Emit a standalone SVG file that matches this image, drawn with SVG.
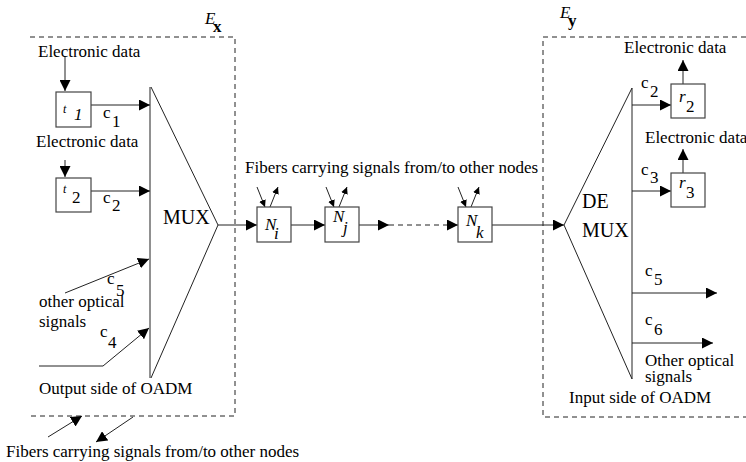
<svg xmlns="http://www.w3.org/2000/svg" width="746" height="462" viewBox="0 0 746 462">
<style>
text{font-family:"Liberation Serif","Times New Roman",serif;fill:#000;font-size:17px}
.it{font-style:italic}
.big{font-size:20px}
.sm{font-size:12px}
.ln{stroke:#222;stroke-width:1;fill:none}
.ar{stroke:#222;stroke-width:1;fill:none;marker-end:url(#ah)}
.ars{stroke:#222;stroke-width:1;fill:none;marker-end:url(#ahs)}
.dash{stroke:#222;stroke-width:1;fill:none;stroke-dasharray:5,4}
.box{fill:#fff;stroke:#444;stroke-width:1.2}
</style>
<defs>
<marker id="ah" viewBox="0 0 10 10" refX="10" refY="5" markerWidth="11" markerHeight="11" markerUnits="userSpaceOnUse" orient="auto"><path d="M0,0 L10,5 L0,10 z" fill="#000"/></marker>
<marker id="ahs" viewBox="0 0 10 10" refX="10" refY="5" markerWidth="7" markerHeight="7" markerUnits="userSpaceOnUse" orient="auto"><path d="M0,0 L10,5 L0,10 z" fill="#000"/></marker>
</defs>
<g id="frames">
<path class="dash" d="M30,37 H235 V416 H30"/>
<path class="dash" d="M746,37 H543 V417 H746"/>
<text x="205" y="24" class="it">E</text><text x="213" y="32" font-weight="bold" font-size="15">x</text>
<text x="560" y="18" class="it">E</text><text x="568" y="26" font-weight="bold" font-size="15">y</text>
</g>
<g id="connectors">
<line class="ar" x1="65" y1="56" x2="65" y2="91"/>
<line class="ar" x1="91" y1="105" x2="150" y2="105"/>
<line class="ar" x1="65" y1="160" x2="65" y2="177"/>
<line class="ar" x1="91" y1="191" x2="150" y2="191"/>
<line class="ar" x1="65" y1="293" x2="149" y2="259"/>
<polyline class="ar" points="39,366 103,366 149,328"/>
<line class="ar" x1="218" y1="225" x2="257" y2="225"/>
<line class="ar" x1="291" y1="225" x2="325" y2="225"/>
<line class="ar" x1="359" y1="225" x2="389" y2="225"/>
<line class="dash" x1="389" y1="225" x2="448" y2="225"/>
<line class="ar" x1="448" y1="225" x2="458" y2="225"/>
<line class="ar" x1="492" y1="225" x2="564" y2="225"/>
<line class="ars" x1="257" y1="187" x2="265" y2="207"/>
<line class="ars" x1="270" y1="207" x2="278" y2="187"/>
<line class="ars" x1="326" y1="187" x2="334" y2="207"/>
<line class="ars" x1="339" y1="207" x2="347" y2="187"/>
<line class="ars" x1="458" y1="187" x2="466" y2="207"/>
<line class="ars" x1="471" y1="207" x2="479" y2="187"/>
<line class="ar" x1="632" y1="105" x2="671" y2="105"/>
<line class="ar" x1="683" y1="84" x2="683" y2="60"/>
<line class="ar" x1="632" y1="191" x2="671" y2="191"/>
<line class="ar" x1="683" y1="173" x2="683" y2="149"/>
<line class="ar" x1="632" y1="293" x2="717" y2="293"/>
<line class="ar" x1="632" y1="343" x2="713" y2="343"/>
<line class="ar" x1="48" y1="437" x2="82" y2="416"/>
<line class="ar" x1="133" y1="417" x2="96" y2="442"/>
</g>
<g id="mux">
<path class="ln" d="M150,87 V378 M151,87 L218,225 L151,378"/>
<text x="163" y="224" class="big">MUX</text>
</g>
<g id="demux">
<path class="ln" d="M632,88 V379 M632,88 L564,225 L632,379"/>
<text x="582" y="208" class="big">DE</text>
<text x="582" y="237" class="big">MUX</text>
</g>
<g id="t1">
<rect class="box" x="56" y="92" width="35" height="35"/>
<text x="63" y="113" class="it sm">t</text><text x="74" y="120" class="it">1</text>
</g>
<g id="t2">
<rect class="box" x="56" y="178" width="35" height="34"/>
<text x="63" y="193" class="it sm">t</text><text x="72" y="203">2</text>
</g>
<g id="Ni">
<rect class="box" x="257" y="207" width="34" height="35"/>
<text x="265" y="230" class="it">N</text><text x="274" y="239" class="it">i</text>
</g>
<g id="Nj">
<rect class="box" x="325" y="207" width="34" height="35"/>
<text x="333" y="222" class="it">N</text><text x="343" y="233" class="it">j</text>
</g>
<g id="Nk">
<rect class="box" x="458" y="207" width="34" height="35"/>
<text x="466" y="226" class="it">N</text><text x="476" y="238" class="it">k</text>
</g>
<g id="r2">
<rect class="box" x="671" y="84" width="34" height="34"/>
<text x="679" y="102" class="it">r</text><text x="686" y="112">2</text>
</g>
<g id="r3">
<rect class="box" x="671" y="173" width="34" height="34"/>
<text x="679" y="188" class="it">r</text><text x="686" y="198">3</text>
</g>
<g id="labels">
<text x="38" y="57">Electronic data</text>
<text x="36" y="147">Electronic data</text>
<text x="103" y="118">c</text><text x="112" y="127">1</text>
<text x="103" y="203">c</text><text x="112" y="211">2</text>
<text x="107" y="284">c</text><text x="116" y="296">5</text>
<text x="39" y="307">other optical</text>
<text x="39" y="327">signals</text>
<text x="100" y="337">c</text><text x="108" y="348">4</text>
<text x="39" y="394">Output side of OADM</text>
<text x="6" y="457">Fibers carrying signals from/to other nodes</text>
<text x="245" y="173">Fibers carrying signals from/to other nodes</text>
<text x="624" y="53">Electronic data</text>
<text x="645" y="143">Electronic data</text>
<text x="641" y="88">c</text><text x="650" y="97">2</text>
<text x="641" y="175">c</text><text x="650" y="183">3</text>
<text x="645" y="276">c</text><text x="654" y="285">5</text>
<text x="645" y="325">c</text><text x="654" y="335">6</text>
<text x="645" y="366">Other optical</text>
<text x="645" y="382">signals</text>
<text x="569" y="403">Input side of OADM</text>
</g>
</svg>
